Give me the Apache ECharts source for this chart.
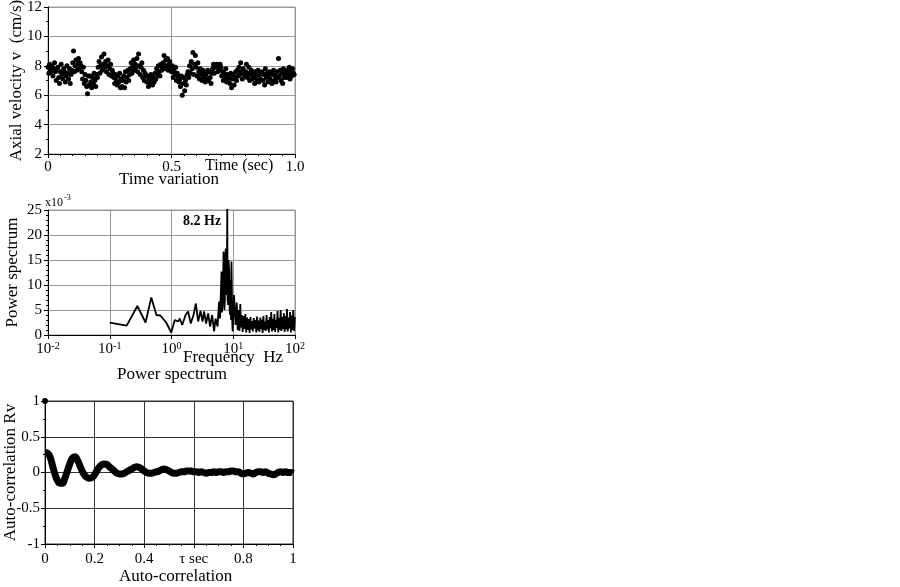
<!DOCTYPE html>
<html>
<head>
<meta charset="utf-8">
<title>Time variation / Power spectrum / Auto-correlation</title>
<script src="https://cdn.jsdelivr.net/npm/echarts@6/dist/echarts.min.js"></script>
<style>
  html, body { margin: 0; padding: 0; background: #fff; }
  #chart { width: 900px; height: 587px; }
</style>
</head>
<body>
<div id="chart"></div>
<script>
// axial velocity samples (cm/s), one every sampleStep sec
var sampleStep = 1 / 300
var velocity = [
  7.9, 7.5, 8.1, 7.7, 7.6, 8.0, 7.3, 7.8, 8.2, 7.6,
  7.0, 7.7, 7.9, 7.2, 6.8, 7.6, 8.1, 7.4, 7.1, 7.8,
  7.6, 6.9, 7.3, 8.0, 7.5, 7.1, 7.8, 6.8, 7.4, 7.7,
  8.2, 9.0, 7.6, 8.0, 8.4, 7.7, 8.1, 8.5, 7.8, 8.2,
  8.0, 7.6, 7.1, 7.9, 6.8, 7.4, 7.0, 6.6, 6.1, 7.3,
  6.7, 7.3, 6.9, 6.5, 7.2, 6.8, 7.5, 7.0, 6.6, 7.4,
  7.2, 7.9, 8.3, 7.5, 8.0, 8.6, 7.7, 8.1, 8.8, 7.9,
  8.3, 7.6, 8.0, 8.4, 7.4, 7.8, 8.1, 7.3, 7.7, 7.5,
  7.2, 6.8, 7.4, 7.0, 6.7, 7.3, 6.9, 7.5, 6.5, 7.1,
  6.6, 7.0, 7.3, 6.5, 7.6, 6.9, 7.2, 7.7, 7.0, 7.4,
  7.8, 8.2, 7.5, 8.0, 8.4, 7.7, 8.1, 7.9, 8.5, 7.6,
  8.8, 8.0, 7.4, 7.9, 8.2, 7.2, 7.7, 7.0, 7.5, 7.3,
  6.9, 7.3, 6.6, 7.1, 6.8, 7.4, 7.0, 6.7, 7.2, 6.9,
  7.5, 7.1, 7.8, 7.4, 8.0, 7.6, 7.3, 8.1, 7.7, 7.9,
  8.2, 8.7, 7.8, 8.4, 8.0, 8.5, 7.7, 8.1, 8.3, 7.9,
  7.6, 8.0, 7.2, 7.7, 7.4, 7.9, 7.0, 7.5, 7.3, 6.9,
  7.1, 6.6, 7.3, 6.0, 6.8, 7.2, 6.3, 7.0, 6.7, 7.4,
  7.6, 7.2, 8.0, 7.5, 8.3, 7.8, 8.9, 7.4, 8.1, 8.7,
  7.9, 7.3, 8.2, 7.6, 7.1, 7.8, 7.4, 7.0, 7.7, 7.2,
  7.5, 6.9, 7.4, 7.1, 7.7, 7.0, 7.6, 7.2, 6.8, 7.5,
  7.8, 8.1, 7.5, 8.0, 7.9, 8.1, 7.6, 8.0, 7.8, 8.1,
  7.9, 7.3, 7.6, 7.0, 7.5, 7.2, 7.8, 6.9, 7.4, 7.1,
  7.3, 6.8, 7.5, 6.5, 7.1, 7.4, 6.7, 7.2, 7.6, 7.0,
  7.7, 7.3, 7.9, 7.4, 8.2, 7.6, 7.1, 7.8, 7.5, 7.3,
  7.6, 8.1, 7.2, 7.5, 7.9, 7.0, 7.4, 7.7, 7.1, 7.5,
  7.2, 6.8, 7.6, 7.3, 7.0, 7.7, 6.9, 7.4, 7.1, 7.5,
  7.6, 7.0, 7.4, 6.7, 7.8, 7.2, 7.5, 6.9, 7.3, 7.6,
  7.1, 7.5, 6.8, 7.4, 7.7, 7.0, 7.3, 6.9, 7.6, 7.2,
  8.5, 7.3, 7.7, 7.0, 7.5, 6.8, 7.8, 7.2, 7.4, 7.6,
  7.2, 7.7, 7.4, 7.9, 7.1, 7.6, 7.3, 7.8, 7.5, 7.4
]

// power spectrum: [frequency Hz, power x10^-3]
var spectrum = [
  [0.1, 2.46], [0.188, 1.87], [0.28, 5.8], [0.38, 2.5], [0.47, 7.5],
  [0.57, 4.0], [0.66, 3.9], [0.82, 2.5], [0.99, 0.5],
  [1.13, 3.0], [1.28, 2.7], [1.36, 3.3], [1.49, 2.0], [1.69, 4.0],
  [1.86, 4.7], [2.05, 2.3], [2.27, 4.0], [2.48, 6.3], [2.7, 2.7],
  [2.95, 4.8], [3.18, 2.7], [3.37, 4.7], [3.64, 2.3], [3.92, 4.3],
  [4.22, 1.7], [4.55, 4.0], [4.9, 0.7], [5.17, 3.3], [5.57, 1.7],
  [5.9, 6.7], [6.1, 3.3], [6.3, 8.5], [6.45, 12.7], [6.55, 4.5],
  [6.7, 6.0], [6.85, 10.0], [6.96, 16.7], [7.1, 14.0], [7.2, 5.0],
  [7.3, 6.7], [7.45, 15.5], [7.57, 17.3], [7.65, 8.0], [7.7, 16.0],
  [7.8, 9.3], [7.9, 11.0], [8.0, 26.0], [8.1, 7.0], [8.26, 6.0],
  [8.4, 15.0], [8.6, 12.7], [8.75, 5.0], [8.9, 4.0], [9.1, 11.0],
  [9.2, 3.0], [9.35, 14.7], [9.5, 9.0], [9.65, 2.0], [9.8, 0.7],
  [10.3, 8.0], [10.9, 2.0],
  [11.4, 6.5], [11.8, 1.0], [12.2, 5.0], [12.6, 0.8], [13.0, 6.2],
  [13.4, 1.5], [13.8, 4.0], [14.2, 0.6], [14.7, 3.8], [15.2, 1.2],
  [15.7, 4.2], [16.2, 0.5], [16.7, 3.5], [17.2, 1.0], [17.8, 3.2],
  [18.4, 0.4], [19.0, 3.6], [19.6, 1.1], [20.2, 2.8], [20.8, 0.7],
  [21.5, 3.4], [22.2, 1.3], [22.9, 3.0], [23.6, 0.5], [24.3, 3.7],
  [25.0, 0.9], [25.8, 2.9], [26.6, 0.6], [27.4, 3.5], [28.2, 1.2],
  [29.0, 3.1], [29.9, 0.4], [30.8, 3.8], [31.7, 1.0], [32.6, 2.7],
  [33.6, 0.8], [34.6, 4.0], [35.6, 1.1], [36.7, 3.0], [37.8, 0.5],
  [38.9, 3.6], [40.0, 1.3], [41.2, 4.6], [42.4, 0.7], [43.7, 3.2],
  [45.0, 1.0], [46.3, 4.2], [47.7, 0.6], [49.1, 3.0], [50.6, 1.4],
  [52.1, 4.8], [53.6, 0.5], [55.2, 3.4], [56.9, 1.0], [58.6, 5.0],
  [60.3, 0.8], [62.1, 3.6], [64.0, 1.2], [65.9, 4.4], [67.9, 0.6],
  [69.9, 3.8], [72.0, 1.1], [74.1, 5.2], [76.3, 0.7], [78.6, 3.5],
  [81.0, 1.3], [83.4, 4.6], [85.9, 0.5], [88.5, 3.9], [91.1, 1.0],
  [93.8, 5.0], [96.6, 0.8], [99.5, 3.6]
]

// auto-correlation Rv, one value every lagStep sec (the point at tau = 0 is separate)
var lagStep = 0.01
var rvZero = [0, 1]
var rv = [
  0.28, 0.27, 0.22, 0.10, -0.02, -0.11, -0.15, -0.15, -0.08, 0.02,
  0.12, 0.20, 0.22, 0.18, 0.10, 0.02, -0.04, -0.07, -0.08, -0.07,
  -0.03, 0.03, 0.08, 0.11, 0.12, 0.11, 0.08, 0.05, 0.02, -0.01,
  -0.02, -0.02, -0.01, 0.01, 0.03, 0.05, 0.07, 0.08, 0.07, 0.05,
  0.02, 0.00, -0.01, -0.01, 0.00, 0.01, 0.02, 0.04, 0.05, 0.04,
  0.02, 0.00, -0.01, -0.01, 0.00, 0.01, 0.01, 0.02, 0.02, 0.02,
  0.01, 0.01, 0.00, 0.01, 0.00, -0.01, 0.00, 0.00, 0.01, 0.00,
  0.01, 0.01, 0.00, 0.01, 0.01, 0.02, 0.02, 0.01, 0.01, -0.01,
  -0.02, -0.01, 0.00, -0.01, -0.02, 0.00, 0.01, 0.01, 0.00, 0.01,
  -0.01, -0.02, -0.03, -0.02, 0.00, 0.01, 0.00, 0.01, 0.00, 0.00,
  -0.01
]

var font = '"Liberation Serif", "Times New Roman", serif'

var velocityData = velocity.map(function (v, i) { return [i * sampleStep, v] })
var rvData = rv.map(function (v, i) { return [i * lagStep, v] })

function axisBase(gridIndex, gridColor) {
  return {
    gridIndex: gridIndex,
    axisLine: { show: true, onZero: false, lineStyle: { color: '#000', width: 1 } },
    axisTick: { show: true, length: 4, lineStyle: { color: '#000' } },
    splitLine: { show: true, lineStyle: { color: gridColor, width: 1 } },
    nameMoveOverlap: false,
    nameTextStyle: { color: '#000', fontFamily: font, fontSize: 17 }
  }
}

function label(fmt, margin) {
  return { color: '#000', fontFamily: font, fontSize: 15, margin: margin || 6, formatter: fmt }
}

function minor(n) {
  return { show: true, splitNumber: n, length: 2, lineStyle: { color: '#000' } }
}

function merge(a, b) {
  return Object.assign({}, a, b)
}

// fixed pixel boxes, labels may run outside them
function box(left, top, width, height, border) {
  return {
    left: left, top: top, width: width, height: height,
    outerBoundsMode: 'none', containLabel: false,
    show: true, borderColor: border, borderWidth: 1
  }
}

var chart = echarts.init(document.getElementById('chart'))

chart.setOption({
  animation: false,
  backgroundColor: '#fff',
  grid: [
    box(48, 7, 247, 147, '#999'),
    box(48, 210, 247, 125, '#999'),
    box(45, 401, 248, 143, '#333')
  ],
  xAxis: [
    merge(axisBase(0, '#999'), {
      type: 'value', min: 0, max: 1, interval: 0.5,
      minorTick: minor(10),
      axisLabel: label(function (v) { return v === 1 ? '1.0' : String(v) })
    }),
    merge(axisBase(1, '#999'), {
      type: 'log', logBase: 10, min: 0.01, max: 100,
      axisLabel: {
        color: '#000', fontFamily: font, fontSize: 15, margin: 6,
        formatter: function (v) {
          return '{b|10}{s|' + Math.round(Math.log10(v)) + '}'
        },
        rich: {
          b: { fontFamily: font, fontSize: 15, color: '#000' },
          s: { fontFamily: font, fontSize: 10, color: '#000', verticalAlign: 'top', padding: [0, 0, 7, 0] }
        }
      }
    }),
    merge(axisBase(2, '#333'), {
      type: 'value', min: 0, max: 1, interval: 0.2,
      minorTick: minor(4),
      axisLabel: label(function (v) {
        return Math.abs(v - 0.6) < 1e-6 ? 'τ sec' : String(+v.toFixed(1))
      }, 8)
    })
  ],
  yAxis: [
    merge(axisBase(0, '#999'), {
      type: 'value', min: 2, max: 12, interval: 2,
      minorTick: minor(2),
      axisLabel: label(null),
      name: 'Axial velocity v  (cm/s)', nameLocation: 'middle', nameGap: 23
    }),
    merge(axisBase(1, '#999'), {
      type: 'value', min: 0, max: 25, interval: 5,
      minorTick: minor(5),
      axisLabel: label(null),
      name: 'Power spectrum', nameLocation: 'middle', nameGap: 27
    }),
    merge(axisBase(2, '#333'), {
      type: 'value', min: -1, max: 1, interval: 0.5,
      minorTick: minor(2),
      axisLabel: label(null, 5),
      name: 'Auto-correlation Rv', nameLocation: 'middle', nameGap: 26
    })
  ],
  graphic: [
    { type: 'text', left: 205, top: 158, style: { text: 'Time (sec)', font: '16px ' + font, fill: '#000' } },
    { type: 'text', left: 119, top: 171, style: { text: 'Time variation', font: '17px ' + font, fill: '#000' } },
    { type: 'text', left: 45, top: 197, style: { text: 'x10', font: '12px ' + font, fill: '#000' } },
    { type: 'text', left: 64, top: 194, style: { text: '-3', font: '8px ' + font, fill: '#000' } },
    { type: 'text', left: 183, top: 214, style: { text: '8.2 Hz', font: 'bold 14px ' + font, fill: '#000' } },
    { type: 'text', left: 183, top: 349, style: { text: 'Frequency  Hz', font: '17px ' + font, fill: '#000' } },
    { type: 'text', left: 117, top: 366, style: { text: 'Power spectrum', font: '17px ' + font, fill: '#000' } },
    { type: 'text', left: 119, top: 568, style: { text: 'Auto-correlation', font: '17px ' + font, fill: '#000' } }
  ],
  series: [
    {
      name: 'velocity',
      type: 'scatter',
      xAxisIndex: 0, yAxisIndex: 0,
      symbolSize: 5,
      itemStyle: { color: '#000', opacity: 1 },
      data: velocityData
    },
    {
      name: 'spectrum',
      type: 'line',
      xAxisIndex: 1, yAxisIndex: 1,
      showSymbol: false,
      lineStyle: { color: '#000', width: 1.8 },
      data: spectrum
    },
    {
      name: 'Rv',
      type: 'line',
      xAxisIndex: 2, yAxisIndex: 2,
      showSymbol: false,
      smooth: true,
      lineStyle: { color: '#000', width: 7 },
      data: rvData
    },
    {
      name: 'Rv0',
      type: 'scatter',
      xAxisIndex: 2, yAxisIndex: 2,
      symbolSize: 6,
      itemStyle: { color: '#000', opacity: 1 },
      data: [rvZero]
    }
  ]
})
</script>
</body>
</html>
